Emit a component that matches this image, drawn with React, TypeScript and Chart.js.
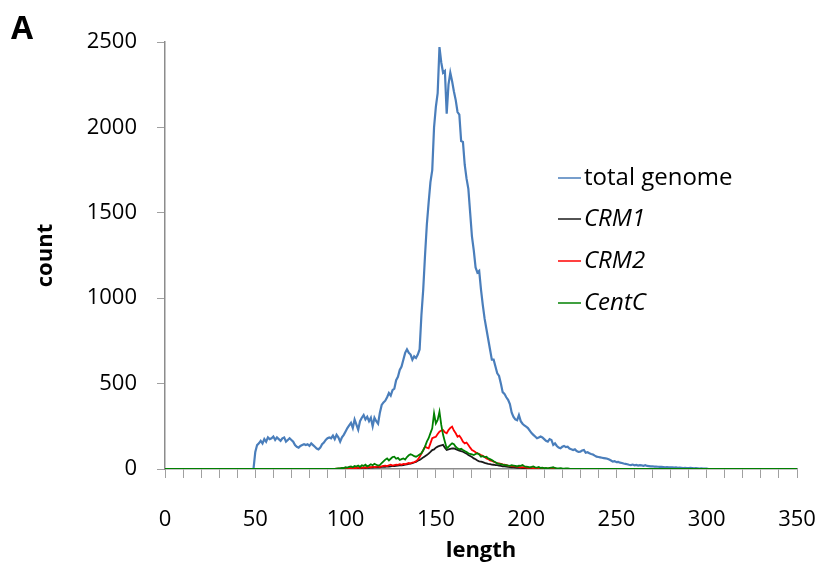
import React, { useEffect, useRef } from "react";
import { Chart, registerables } from "chart.js";

Chart.register(...registerables);

// x range and tick labels
const xMin = 0;
const xMax = 350;
const xTickStep = 10;
const xLabelEvery = 50;
const yTicks = [0, 500, 1000, 1500, 2000, 2500];

// total genome: counts for lengths 50..300 (0 elsewhere)
const totalStart = 50;
const totalGenome = [
  100, 140, 150, 165, 150, 175, 160, 185, 175, 180,
  190, 170, 185, 175, 165, 180, 185, 160, 170, 180,
  170, 160, 140, 130, 125, 135, 140, 145, 140, 145,
  135, 150, 140, 130, 120, 115, 125, 145, 155, 170,
  180, 185, 180, 195, 175, 200, 185, 160, 185, 200,
  220, 240, 255, 270, 240, 290, 260, 230, 280, 300,
  316, 290, 306, 280, 300, 250, 300, 280, 265, 330,
  375, 390, 400, 420, 445, 430, 462, 470, 520, 540,
  580, 600, 640, 680, 700, 680, 670, 640, 660, 650,
  670, 700, 900, 1050, 1250, 1430, 1560, 1680, 1750, 2000,
  2120, 2200, 2470, 2380, 2320, 2330, 2080, 2250, 2320, 2270,
  2210, 2160, 2090, 2075, 1920, 1915, 1780, 1700, 1640, 1500,
  1360, 1280, 1180, 1150, 1160, 1050, 960, 880, 820, 760,
  700, 640, 640, 600, 560, 545, 500, 450, 440, 420,
  405, 380, 330, 305, 290, 285, 316, 280, 265, 255,
  248, 240, 225, 210, 200, 190, 180, 185, 190, 185,
  175, 165, 160, 175, 170, 141, 150, 135, 125, 121,
  130, 135, 128, 131, 120, 115, 111, 115, 105, 100,
  101, 108, 111, 95, 98, 92, 88, 85, 78, 72,
  70, 68, 66, 64, 62, 60, 55, 50, 43, 46,
  40, 42, 37, 35, 32, 30, 28, 25, 23, 26,
  22, 24, 20, 23, 21, 19, 22, 18, 17, 15,
  16, 14, 14, 13, 12, 12, 11, 10, 11, 10,
  9, 10, 8, 9, 7, 8, 7, 6, 7, 6,
  5, 6, 5, 4, 5, 4, 3, 4, 3, 2, 2,
];

// repeat families: counts for lengths 95..225 (0 elsewhere)
const repStart = 95;
const crm1 = [
  1, 2, 1, 2, 3, 2, 3, 4, 3, 4,
  5, 4, 6, 5, 6, 7, 6, 8, 7, 9,
  8, 10, 9, 11, 10, 12, 14, 13, 15, 14,
  16, 18, 17, 19, 20, 22, 21, 23, 25, 27,
  30, 32, 35, 38, 42, 48, 53, 60, 68, 75,
  82, 90, 100, 111, 115, 125, 131, 135, 138, 141,
  125, 111, 115, 118, 121, 120, 116, 112, 108, 104,
  101, 95, 90, 82, 76, 70, 62, 57, 50, 45,
  43, 40, 36, 33, 30, 28, 26, 25, 23, 23,
  20, 18, 16, 15, 14, 12, 11, 10, 9, 8,
  7, 7, 6, 5, 5, 4, 3, 3, 2, 2,
  1, 1, 1, 0, 1, 0, 0, 0, 0, 0, 0,
];
const crm2 = [
  2, 1, 3, 2, 4, 3, 5, 4, 6, 5,
  7, 5, 8, 6, 9, 7, 10, 8, 12, 9,
  14, 11, 13, 15, 12, 16, 18, 20, 17, 22,
  25, 20, 23, 26, 24, 28, 25, 30, 28, 32,
  35, 33, 38, 40, 45, 55, 70, 90, 110, 131,
  125, 121, 150, 180, 185, 189, 205, 219, 225, 228,
  215, 209, 228, 240, 248, 225, 209, 189, 195, 180,
  160, 150, 155, 141, 125, 111, 105, 98, 92, 88,
  82, 78, 70, 62, 58, 50, 47, 43, 38, 35,
  33, 30, 27, 25, 23, 20, 18, 17, 15, 16,
  13, 12, 10, 11, 9, 8, 7, 8, 6, 5,
  6, 4, 5, 3, 4, 3, 2, 3, 2, 2,
  1, 2, 1, 1, 0, 1, 0, 1, 0, 0, 0,
];
const centC = [
  2, 4, 3, 6, 5, 10, 8, 12, 15, 10,
  18, 14, 20, 12, 22, 18, 25, 15, 20, 28,
  22, 30, 25, 20, 23, 35, 45, 55, 62, 50,
  60, 70, 72, 60, 65, 53, 58, 62, 55, 70,
  80, 86, 82, 75, 72, 78, 85, 92, 110, 131,
  160, 180, 210, 238, 326, 267, 287, 336, 258, 200,
  160, 121, 130, 141, 150, 145, 130, 121, 115, 118,
  111, 105, 100, 92, 88, 85, 82, 88, 92, 85,
  72, 75, 70, 72, 62, 58, 53, 45, 40, 33,
  30, 28, 25, 23, 22, 20, 18, 22, 20, 18,
  15, 20, 18, 23, 16, 14, 12, 10, 12, 15,
  10, 8, 12, 6, 8, 5, 7, 4, 6, 8,
  10, 6, 4, 3, 5, 3, 2, 3, 4, 2, 1,
];

const seriesNames = ["total genome", "CRM1", "CRM2", "CentC"];
const seriesItalic = [false, true, true, true];
const seriesColors = ["#4a7ebb", "#1a1a1a", "#ff0000", "#008000"];

function toPoints(start: number, values: number[]) {
  const pts: { x: number; y: number }[] = [{ x: xMin, y: 0 }];
  pts.push({ x: start - 1, y: 0 });
  values.forEach((v, i) => pts.push({ x: start + i, y: v }));
  pts.push({ x: start + values.length, y: 0 });
  pts.push({ x: xMax, y: 0 });
  return pts;
}

const FONT = "'Open Sans', 'DejaVu Sans', sans-serif";

const legendPlugin = {
  id: "customLegend",
  afterDraw(chart: any) {
    const ctx = chart.ctx;
    ctx.save();
    const ys = [178, 219, 261, 303];
    seriesNames.forEach((name, i) => {
      ctx.strokeStyle = seriesColors[i];
      ctx.lineWidth = 1.5;
      ctx.beginPath();
      ctx.moveTo(558, ys[i]);
      ctx.lineTo(581, ys[i]);
      ctx.stroke();
      ctx.fillStyle = "#000";
      ctx.font = `${seriesItalic[i] ? "italic " : ""}24px ${FONT}`;
      ctx.textBaseline = "middle";
      ctx.textAlign = "left";
      ctx.fillText(name, 584, ys[i]);
    });
    ctx.font = `bold 32px ${FONT}`;
    ctx.fillStyle = "#000";
    ctx.textBaseline = "alphabetic";
    ctx.fillText("A", 11, 39);
    ctx.restore();
  },
};

export default function App() {
  const ref = useRef<HTMLCanvasElement | null>(null);
  useEffect(() => {
    if (!ref.current) return;
    const data = [
      toPoints(totalStart, totalGenome),
      toPoints(repStart, crm1),
      toPoints(repStart, crm2),
      toPoints(repStart, centC),
    ];
    const orders = [3, 2, 1, 0];
    const chart = new Chart(ref.current, {
      type: "line",
      data: {
        datasets: data.map((d, i) => ({
          label: seriesNames[i],
          data: d,
          borderColor: seriesColors[i],
          borderWidth: i === 0 ? 2.2 : 1.8,
          pointRadius: 0,
          tension: 0,
          fill: false,
          order: orders[i],
        })),
      },
      options: {
        responsive: false,
        animation: false,
        layout: { padding: { left: 0, right: 22, top: 42, bottom: 0 } },
        plugins: { legend: { display: false }, tooltip: { enabled: false } },
        scales: {
          x: {
            type: "linear",
            min: xMin,
            max: xMax,
            afterFit(scale: any) {
              scale.height = 100;
              scale.paddingLeft = 0;
              scale.paddingRight = 0;
            },
            afterBuildTicks(scale: any) {
              const t = [];
              for (let v = xMin; v <= xMax; v += xTickStep) t.push({ value: v });
              scale.ticks = t;
            },
            ticks: {
              autoSkip: false,
              maxRotation: 0,
              padding: 29,
              color: "#000",
              font: { family: FONT, size: 22 },
              callback: (v: any) => (Number(v) % xLabelEvery === 0 ? String(v) : ""),
            },
            grid: {
              drawOnChartArea: false,
              tickLength: 9,
              color: "#a0a0a0",
            },
            border: { color: "#8c8c8c", width: 1.5 },
            title: {
              display: true,
              text: "length",
              color: "#000",
              font: { family: FONT, size: 22, weight: "bold" },
              padding: { top: 0, bottom: 5 },
            },
          },
          y: {
            type: "linear",
            min: 0,
            max: 2500,
            afterFit(scale: any) {
              scale.width = 165;
              scale.paddingTop = 0;
              scale.paddingBottom = 0;
            },
            afterBuildTicks(scale: any) {
              scale.ticks = yTicks.map((v) => ({ value: v }));
            },
            ticks: {
              padding: 20,
              color: "#000",
              font: { family: FONT, size: 22 },
              callback: (v: any) => String(v),
            },
            grid: {
              drawOnChartArea: false,
              tickLength: 8,
              color: "#a0a0a0",
            },
            border: { color: "#8c8c8c", width: 1.5 },
            title: {
              display: true,
              text: "count",
              color: "#000",
              font: { family: FONT, size: 22, weight: "bold" },
              padding: { top: 33, bottom: 0 },
            },
          },
        },
      },
      plugins: [legendPlugin],
    });
    return () => chart.destroy();
  }, []);
  return (
    <div style={{ position: "absolute", left: 0, top: 0, width: 819, height: 569, background: "#fff" }}>
      <canvas ref={ref} width={819} height={569} style={{ display: "block" }} />
    </div>
  );
}
